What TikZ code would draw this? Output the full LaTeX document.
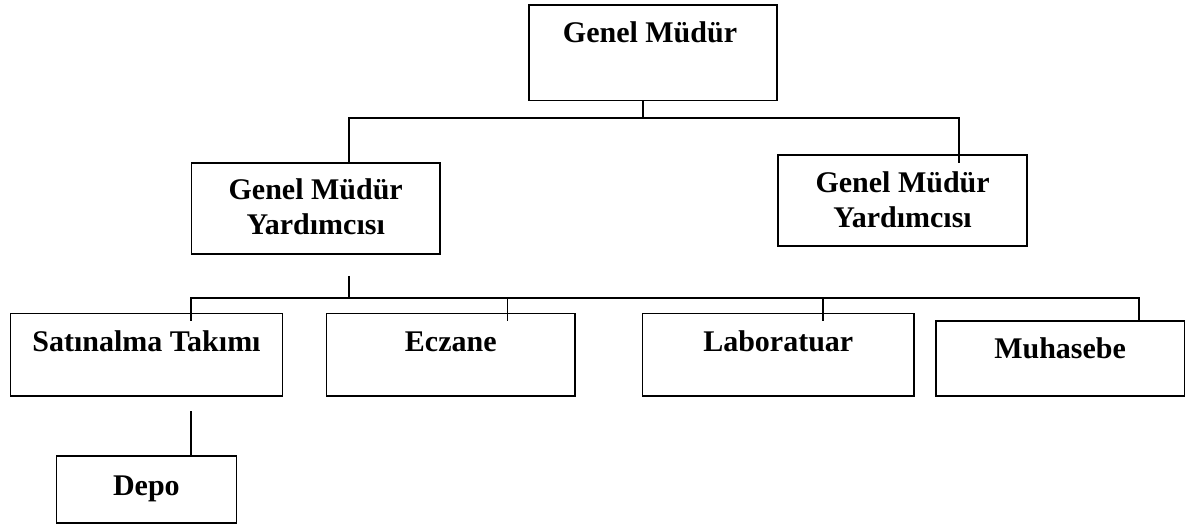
\documentclass[tikz,border=0pt]{standalone}
\usepackage{fontspec}
\setmainfont{Liberation Serif}
\begin{document}
\begin{tikzpicture}[x=1pt,y=-1pt,
  box/.style={draw=black, line width=1.6pt, rectangle, inner sep=0pt},
  lbl/.style={anchor=base, inner sep=0pt, font=\fontsize{30}{34}\selectfont\bfseries},
  conn/.style={draw=black, line width=1.6pt}]
\useasboundingbox (0,0) rectangle (1194,526);
% boxes
\node[box, minimum width=248pt, minimum height=95.7pt] (gm) at (653,52.85) {};
\node[box, minimum width=248.6pt, minimum height=91pt] (gmy1) at (315.7,208.5) {};
\node[box, minimum width=249.3pt, minimum height=91pt] (gmy2) at (902.4,200.5) {};
\node[box, minimum width=271.7pt, minimum height=82.7pt] (sat) at (146.5,354.7) {};
\node[box, minimum width=248.8pt, minimum height=82.7pt] (ecz) at (450.8,354.7) {};
\node[box, minimum width=271.4pt, minimum height=82.7pt] (lab) at (778.3,354.7) {};
\node[box, minimum width=248.8pt, minimum height=75pt] (muh) at (1060.1,358.5) {};
\node[box, minimum width=180.2pt, minimum height=67pt] (depo) at (146.4,489.5) {};
% labels
\node[lbl] (gmt) at (650,43) {Genel Müdür};
\node[lbl] (gmy1a) at (315.7,200) {Genel Müdür};
\node[lbl] (gmy1b) at (315.7,235) {Yardımcısı};
\node[lbl] (gmy2a) at (902.6,193) {Genel Müdür};
\node[lbl] (gmy2b) at (902.6,228) {Yardımcısı};
\node[lbl] (satt) at (146.5,352) {Satınalma Takımı};
\node[lbl] (eczt) at (450.8,352) {Eczane};
\node[lbl] (labt) at (778.3,352) {Laboratuar};
\node[lbl] (muht) at (1060.1,359) {Muhasebe};
\node[lbl] (depot) at (146.4,495) {Depo};
% junction coordinates
\coordinate (j1) at (643,118);
\coordinate (j1l) at (349,118);
\coordinate (j1r) at (959,118);
\coordinate (r2end) at (959,163);
\coordinate (s1) at (349,276);
\coordinate (j2) at (349,298);
\coordinate (j2a) at (191,298);
\coordinate (j2b) at (507.5,298);
\coordinate (j2c) at (823,298);
\coordinate (j2d) at (1139,298);
\coordinate (t1) at (191,321);
\coordinate (t2) at (507.5,321);
\coordinate (t3) at (823,321);
\coordinate (d1) at (191,411);
% connectors
\draw[conn] (gm.south -| j1) -- (j1);
\draw[conn] (gmy1.north -| j1l) -- (j1l) -- (j1r) -- (r2end);
\draw[conn] (s1) -- (j2);
\draw[conn] (t1) -- (j2a) -- (j2d) -- (muh.north -| j2d);
\draw[conn] (j2b) -- (t2);
\draw[conn] (j2c) -- (t3);
\draw[conn] (d1) -- (depo.north -| d1);
\end{tikzpicture}
\end{document}
